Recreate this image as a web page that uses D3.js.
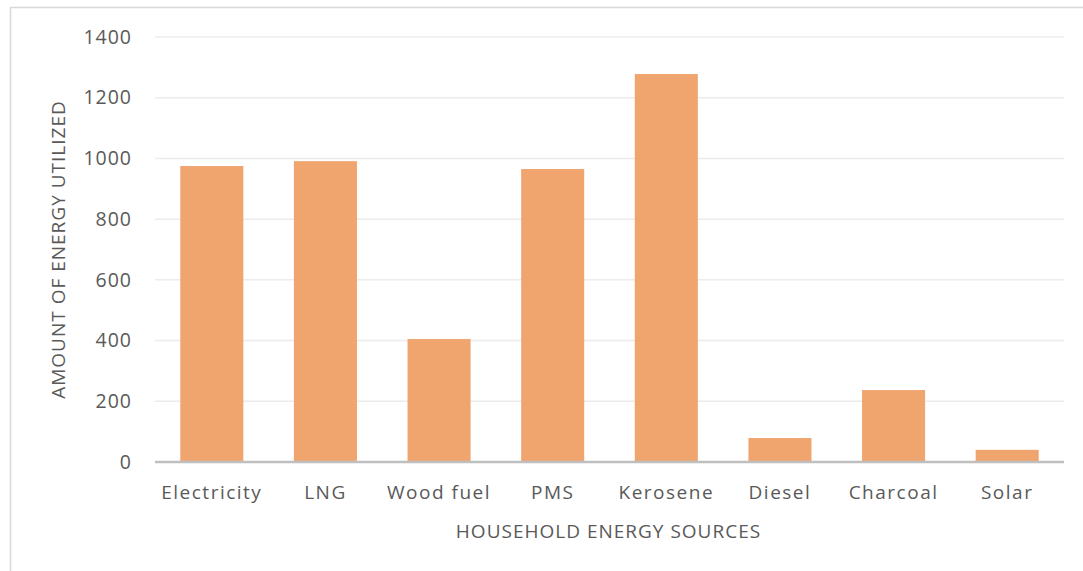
<!DOCTYPE html>
<html>
<head>
<meta charset="utf-8">
<script src="https://cdn.jsdelivr.net/npm/d3@7"></script>
<style>
  html, body { margin: 0; padding: 0; background: #fff; }
  svg { display: block; font-family: "Open Sans", "Liberation Sans", sans-serif; }
</style>
</head>
<body>
<svg id="chart" width="1083" height="571"></svg>
<script>
// Household energy sources and the amount of energy utilized
const categories = ["Electricity", "LNG", "Wood fuel", "PMS", "Kerosene", "Diesel", "Charcoal", "Solar"];
const values = [975, 991, 405, 965, 1278, 79, 237, 40];
const yTicks = [0, 200, 400, 600, 800, 1000, 1200, 1400];
const xTitle = "HOUSEHOLD ENERGY SOURCES";
const yTitle = "AMOUNT OF ENERGY UTILIZED";

const svg = d3.select("#chart");
const W = 1083, H = 571;
const plot = { left: 155, right: 1064, top: 37, bottom: 462 };
const textColor = "#595959";

// chart frame
svg.append("rect")
  .attr("x", 10.5).attr("y", 7.5)
  .attr("width", W).attr("height", H)
  .attr("fill", "#fff").attr("stroke", "#d9d9d9").attr("stroke-width", 1.5);

const x = d3.scaleBand()
  .domain(categories)
  .range([plot.left, plot.right])
  .paddingInner(0.445)
  .paddingOuter(0.2225);

const y = d3.scaleLinear()
  .domain([0, 1400])
  .range([plot.bottom, plot.top]);

// horizontal gridlines
svg.append("g")
  .selectAll("line")
  .data(yTicks.filter(t => t > 0))
  .join("line")
  .attr("x1", plot.left).attr("x2", plot.right)
  .attr("y1", d => y(d)).attr("y2", d => y(d))
  .attr("stroke", "#ececec").attr("stroke-width", 1.5);

// y axis labels
const yAxis = d3.axisLeft(y).tickValues(yTicks).tickFormat(d3.format("d")).tickSize(0).tickPadding(0);
const yg = svg.append("g").attr("transform", `translate(${plot.left - 23},0)`).call(yAxis);
yg.select(".domain").remove();
yg.selectAll("text")
  .attr("font-size", 19.5).attr("fill", textColor).attr("letter-spacing", 1)
  .attr("font-family", "'Open Sans', 'Liberation Sans', sans-serif");

// bars
svg.append("g")
  .selectAll("rect")
  .data(categories.map((c, i) => ({ c, v: values[i] })))
  .join("rect")
  .attr("x", d => x(d.c))
  .attr("width", x.bandwidth())
  .attr("y", d => y(d.v))
  .attr("height", d => y(0) - y(d.v))
  .attr("fill", "#F0A56E");

// x axis baseline and category labels
const xAxis = d3.axisBottom(x).tickSize(0).tickPadding(24);
const xg = svg.append("g").attr("transform", `translate(0,${plot.bottom})`).call(xAxis);
xg.select(".domain").attr("stroke", "#bfbfbf").attr("stroke-width", 2.5)
  .attr("d", `M${plot.left},0H${plot.right}`);
xg.selectAll("text")
  .attr("font-size", 19).attr("fill", textColor).attr("letter-spacing", 1.5)
  .attr("font-family", "'Open Sans', 'Liberation Sans', sans-serif");

// axis titles
svg.append("text")
  .attr("x", (plot.left + plot.right) / 2 - 1)
  .attr("y", 538)
  .attr("text-anchor", "middle")
  .attr("font-size", 19).attr("fill", textColor).attr("letter-spacing", 1)
  .text(xTitle);

svg.append("text")
  .attr("transform", `translate(65,${(plot.top + plot.bottom) / 2}) rotate(-90)`)
  .attr("text-anchor", "middle")
  .attr("font-size", 19).attr("fill", textColor).attr("letter-spacing", 1)
  .text(yTitle);
</script>
</body>
</html>
